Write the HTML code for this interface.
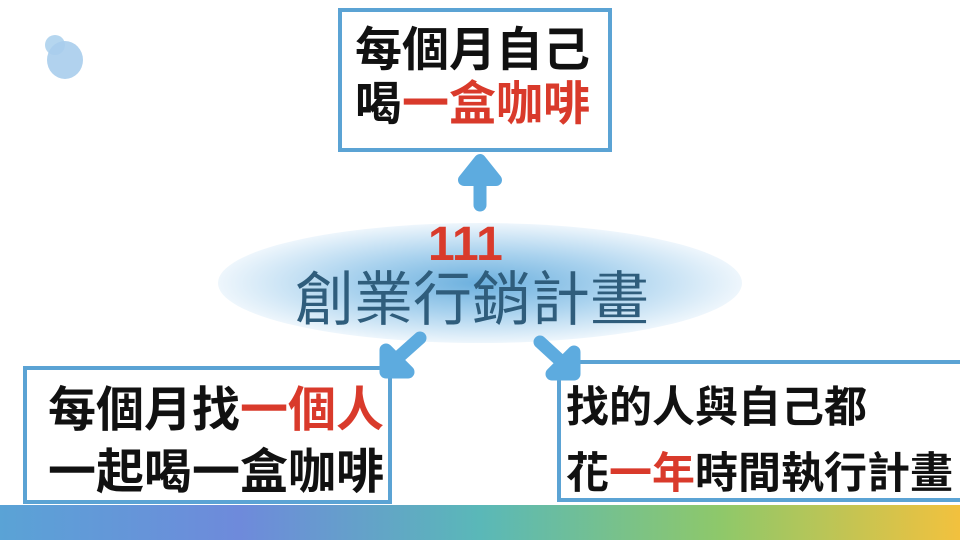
<!DOCTYPE html>
<html><head><meta charset="utf-8"><style>
body{margin:0;width:960px;height:540px;overflow:hidden;background:#fff;position:relative;font-family:"Liberation Sans","Noto Sans CJK TC",sans-serif}
.t{position:absolute;white-space:nowrap;font-weight:bold;color:#111}
.r{color:#d93a2b}
</style></head><body>
<svg width="960" height="540" style="position:absolute;left:0;top:0">
<defs>
<radialGradient id="e" cx="50%" cy="50%" r="50%">
<stop offset="0" stop-color="#6cb0de"/><stop offset="0.5" stop-color="#a9d2ee"/><stop offset="1" stop-color="#eef6fc"/></radialGradient>
<linearGradient id="b" x1="0" x2="1"><stop offset="0" stop-color="#5aa3d6"/><stop offset="0.25" stop-color="#6e8adb"/><stop offset="0.5" stop-color="#5ab8b8"/><stop offset="0.75" stop-color="#8ec86a"/><stop offset="1" stop-color="#f2c13e"/></linearGradient>
</defs>
<circle cx="55" cy="45" r="10" fill="#b5d6ef"/>
<ellipse cx="65" cy="60" rx="18" ry="19" fill="#a8cdec" opacity="0.9"/>
<ellipse cx="480" cy="283" rx="262" ry="60" fill="url(#e)"/>
<rect x="0" y="505" width="960" height="35" fill="url(#b)"/>
<g fill="none" stroke="#5ba3d4">
<rect x="340" y="10" width="270" height="140" stroke-width="4"/>
<rect x="25" y="368" width="365" height="134" stroke-width="4"/>
<rect x="559" y="362" width="410" height="138" stroke-width="4"/>
</g>
<g fill="#5dabdf" stroke="#5dabdf" stroke-linejoin="round" stroke-linecap="round">
<line x1="480" y1="205" x2="480" y2="170" stroke-width="13"/>
<polygon points="480,160 464,180 496,180" stroke-width="12"/>
<line x1="420" y1="338" x2="392" y2="363" stroke-width="13"/>
<polygon points="386,372 386,350 408,372" stroke-width="13"/>
<line x1="540" y1="342" x2="565" y2="365" stroke-width="13"/>
<polygon points="574,374 574,352 552,374" stroke-width="13"/>
</g>
</svg>
<div class="t" style="left:355px;top:23px;font-size:47px;line-height:54px">每個月自己<br>喝<span class="r">一盒咖啡</span></div>
<div class="t r" style="left:428px;top:220px;font-size:48px;line-height:50px">111</div>
<div class="t" style="left:295px;top:268px;font-size:59px;line-height:64px;font-weight:normal;color:#2f5d7c">創業行銷計畫</div>
<div class="t" style="left:48px;top:380px;font-size:48px;line-height:62px">每個月找<span class="r">一個人</span><br>一起喝一盒咖啡</div>
<div class="t" style="left:566px;top:375px;font-size:43px;line-height:66px">找的人與自己都<br>花<span class="r">一年</span>時間執行計畫</div>
</body></html>
